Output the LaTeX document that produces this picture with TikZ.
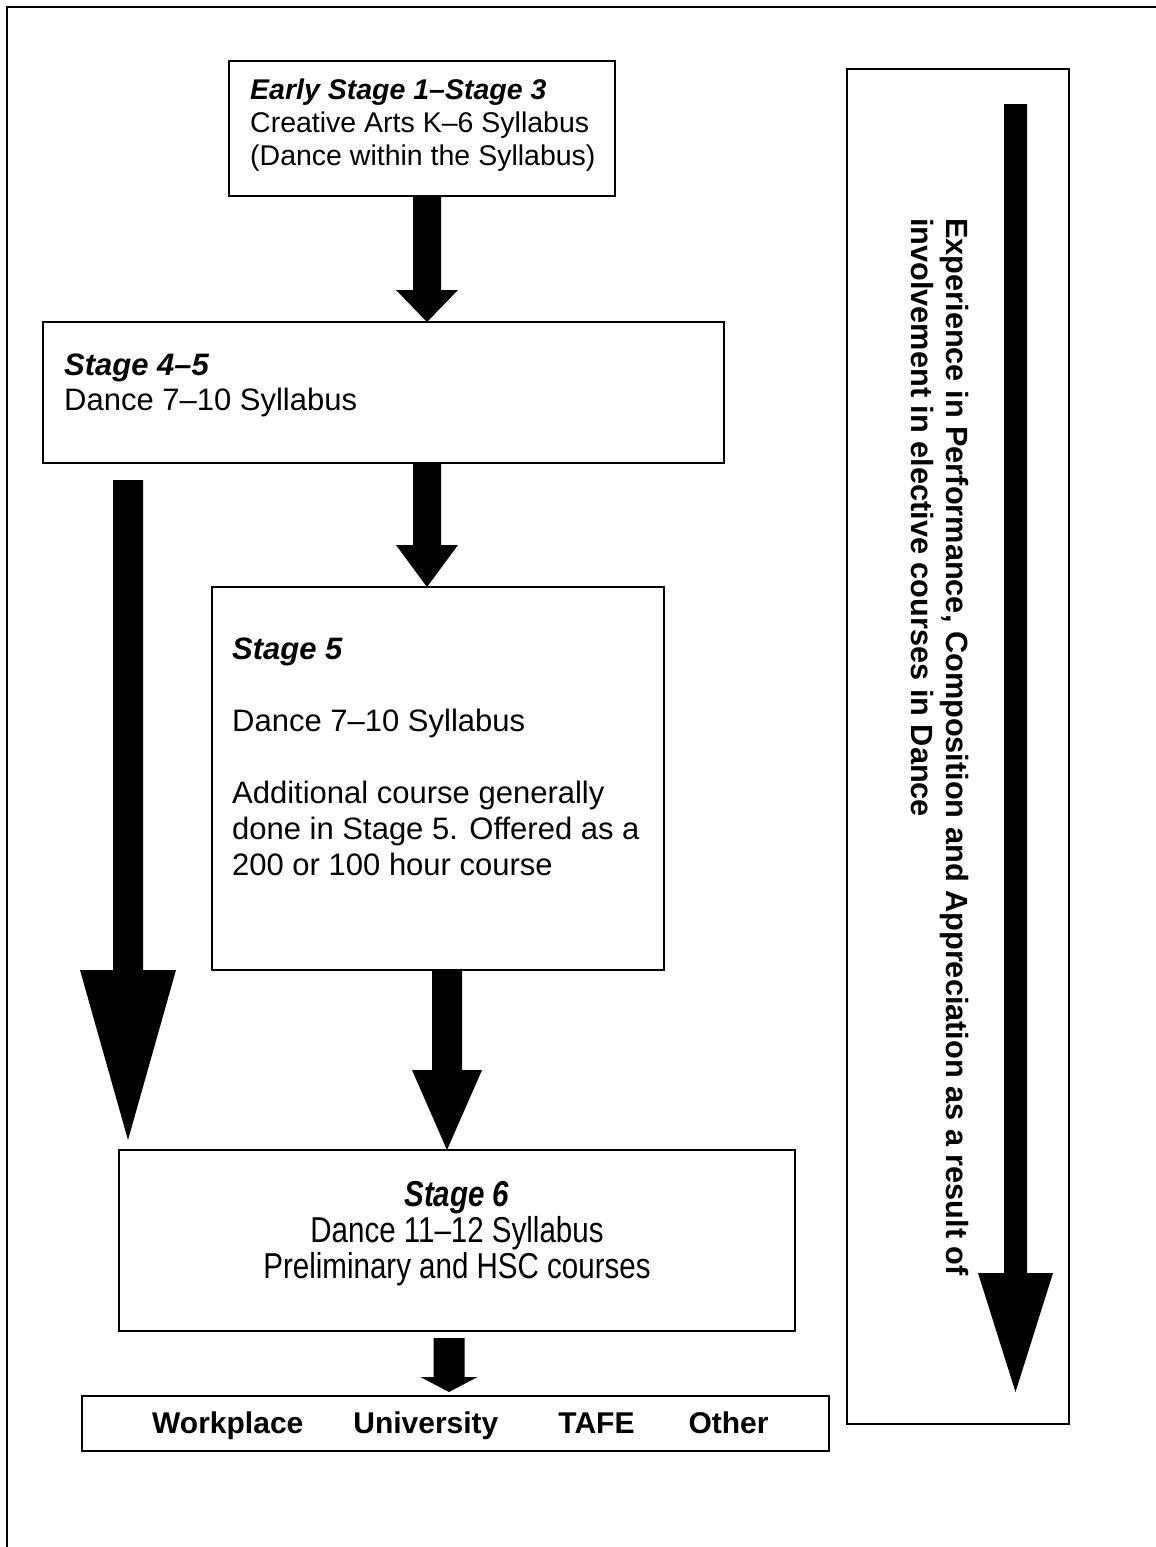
\documentclass[tikz,border=0pt]{standalone}
\usepackage{fontspec}
\setmainfont{Liberation Sans}
\newfontfamily\narrowfont[FakeStretch=0.82]{Liberation Sans}
\usetikzlibrary{calc}
\newcommand\blockarrow[5]{%
  \fill let \p1=#1, \p2=#2 in
    (\x1-#3,\y1) -- (\x1-#3,\y2+#5) -- (\x1-#4,\y2+#5) -- (\x1,\y2)
    -- (\x1+#4,\y2+#5) -- (\x1+#3,\y2+#5) -- (\x1+#3,\y1) -- cycle;}
\begin{document}
\begin{tikzpicture}[x=1pt,y=-1pt,
  box/.style={draw, line width=2.5pt, anchor=north west, inner sep=0pt, outer sep=0pt},
  txt/.style={anchor=north west, inner sep=0pt, align=left, font=\fontsize{31}{35}\selectfont},
  frame/.style={line width=2.5pt}]
\useasboundingbox (0,0) rectangle (1156,1547);
% outer frame (top and left)
\coordinate (fL) at (7,1547);
\coordinate (fC) at (7,7);
\coordinate (fR) at (1156,7);
\draw[frame] (fL) -- (fC) -- (fR);
% boxes
\node[box, minimum width=386pt, minimum height=135pt] (b1) at (229,61) {};
\node[box, minimum width=681pt, minimum height=141pt] (b2) at (43,322) {};
\node[box, minimum width=452pt, minimum height=383pt] (b3) at (212,587) {};
\node[box, minimum width=676pt, minimum height=181pt] (b4) at (119,1150) {};
\node[box, minimum width=747pt, minimum height=55pt] (b5) at (82,1396) {};
\node[box, minimum width=222pt, minimum height=1355pt] (r) at (847,69) {};
% texts
\node[txt, font=\fontsize{28.5}{33}\selectfont] (t1) at (250,79)
  {\textbf{\textit{Early Stage 1–Stage 3}}\\Creative Arts K–6 Syllabus\\(Dance within the Syllabus)};
\node[txt] (t2) at (64,354) {\textbf{\textit{Stage 4–5}}\\Dance 7–10 Syllabus};
\node[txt, font=\fontsize{31}{36}\selectfont] (t3) at (232,638)
  {\textbf{\textit{Stage 5}}\\[36pt]Dance 7–10 Syllabus\\[36pt]Additional course generally\\done in Stage 5. Offered as a\\200 or 100 hour course};
\node[anchor=north, inner sep=0pt, align=center, font=\narrowfont\fontsize{36}{36}\selectfont] (t4) at (457,1181)
  {\textbf{\textit{Stage 6}}\\Dance 11–12 Syllabus\\Preliminary and HSC courses};
\node[anchor=base west, inner sep=0pt, font=\bfseries\fontsize{30}{34}\selectfont] (t5) at (152,1433)
  {Workplace\hspace{50pt}University\hspace{60pt}TAFE\hspace{54pt}Other};
\node[txt, rotate=-90, font=\bfseries\fontsize{30.7}{35}\selectfont] (t6) at (969,218)
  {Experience in Performance, Composition and Appreciation as a result of\\involvement in elective courses in Dance};
% arrows
\coordinate (a1) at (427,0);
\coordinate (a3) at (447,0);
\coordinate (a4s) at (449,1338);
\coordinate (a4e) at (449,1392);
\coordinate (las) at (128,480);
\coordinate (lae) at (128,1140);
\coordinate (ras) at (1015.5,104);
\coordinate (rae) at (1015.5,1392);
\blockarrow{(a1 |- b1.south)}{(a1 |- b2.north)}{14pt}{31pt}{32pt}
\blockarrow{(a1 |- b2.south)}{(a1 |- b3.north)}{14pt}{31pt}{42pt}
\blockarrow{(a3 |- b3.south)}{(a3 |- b4.north)}{15pt}{35pt}{80pt}
\blockarrow{(a4s)}{(a4e)}{15.5pt}{28.5pt}{15pt}
\blockarrow{(las)}{(lae)}{15pt}{48pt}{170pt}
\blockarrow{(ras)}{(rae)}{11.5pt}{37.5pt}{119pt}
\end{tikzpicture}
\end{document}
